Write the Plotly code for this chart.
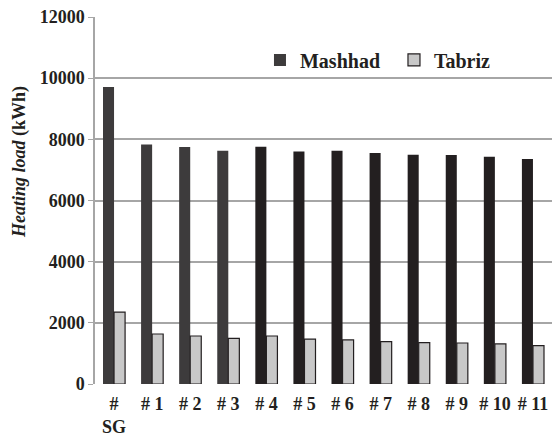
import plotly.graph_objects as go

categories = ["#<br>SG", "# 1", "# 2", "# 3", "# 4", "# 5", "# 6", "# 7", "# 8", "# 9", "# 10", "# 11"]
mashhad = [9710, 7830, 7750, 7630, 7760, 7600, 7630, 7550, 7500, 7490, 7430, 7360]
tabriz = [2350, 1635, 1570, 1490, 1570, 1470, 1440, 1385, 1350, 1340, 1310, 1255]
y_ticks = [0, 2000, 4000, 6000, 8000, 10000, 12000]
mashhad_colors = ["#3d3b3c"] * 4 + ["#231f20"] * 8

FONT = "'Times New Roman', 'Liberation Serif', Times, 'DejaVu Serif', serif"

fig = go.Figure()
fig.add_trace(go.Bar(
    x=categories, y=mashhad, name="<b>Mashhad</b>",
    marker=dict(color=mashhad_colors, line=dict(width=0)),
))
fig.add_trace(go.Bar(
    x=categories, y=tabriz, name="<b>Tabriz</b>",
    marker=dict(color="#c8c8c8", line=dict(color="#231f20", width=1.2)),
))

fig.update_layout(
    width=552, height=438,
    margin=dict(l=95, r=0, t=17, b=54),
    paper_bgcolor="white", plot_bgcolor="white",
    barmode="group", bargap=0.42, bargroupgap=0,
    font=dict(family=FONT, color="#231f20"),
    showlegend=True,
    legend=dict(
        orientation="h", x=0.361, y=0.883, xanchor="left", yanchor="middle",
        font=dict(family=FONT, size=20, color="#231f20"),
        bgcolor="rgba(0,0,0,0)", itemwidth=30,
        entrywidth=89, entrywidthmode="pixels",
    ),
    xaxis=dict(
        showgrid=False, showline=False, ticks="",
        tickfont=dict(family=FONT, size=18, color="#231f20"),
        tickprefix="<b>", ticksuffix="</b>",
        ticklabelstandoff=7,
    ),
    yaxis=dict(
        range=[0, 12000], tickmode="array", tickvals=y_ticks,
        ticktext=[f"<b>{v}</b>" for v in y_ticks],
        showgrid=True, gridcolor="#a6a6a6", gridwidth=1.5,
        showline=True, linecolor="#a6a6a6", linewidth=1.5,
        ticks="outside", ticklen=5, tickcolor="#a6a6a6",
        tickfont=dict(family=FONT, size=18, color="#231f20"),
        zeroline=False,
    ),
    annotations=[dict(
        text="<b><i>Heating load</i> (kWh)</b>",
        textangle=-90, showarrow=False,
        xref="paper", yref="paper", x=-0.164, y=0.605,
        xanchor="center", yanchor="middle",
        font=dict(family=FONT, size=18, color="#231f20"),
    )],
)

fig.write_html(
    "out.html",
    config={"displayModeBar": False},
    post_script="document.body.style.margin='0';document.body.style.overflow='hidden';",
)
